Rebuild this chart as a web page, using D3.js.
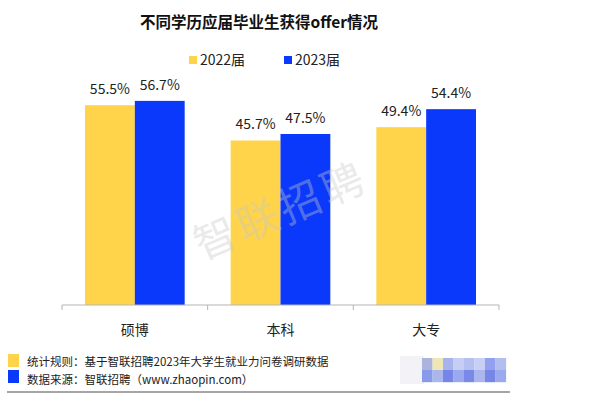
<!DOCTYPE html>
<html>
<head>
<meta charset="utf-8">
<script src="https://cdn.jsdelivr.net/npm/d3@7"></script>
<style>
  html, body { margin: 0; padding: 0; background: #fff; }
  svg { display: block; font-family: "Noto Sans CJK SC", "Noto Sans", sans-serif; }
</style>
</head>
<body>
<div id="chart"></div>
<script>
const categories = ['硕博', '本科', '大专'];
const seriesNames = ['2022届', '2023届'];
const values2022 = [55.5, 45.7, 49.4];
const values2023 = [56.7, 47.5, 54.4];
const notes = ['统计规则：基于智联招聘2023年大学生就业力问卷调研数据', '数据来源：智联招聘（www.zhaopin.com）'];

const colors = ['#ffd44a', '#0a39fb'];
const blurColors = [
  ['#aab4dc', '#efe6b6', '#a6b3ec', '#c6cef3', '#b5c0f0', '#c7cff4', '#92a0ef', '#b2bdf0'],
  ['#8a9aea', '#abb7ec', '#7686e8', '#9aa8ee', '#7889e8', '#abb6ee', '#7687e8', '#9ba9ee']
];

const width = 598, height = 396;
const svg = d3.select('#chart').append('svg')
  .attr('width', width).attr('height', height);

// title
svg.append('text')
  .attr('x', 259).attr('y', 28)
  .attr('text-anchor', 'middle')
  .attr('font-size', 15.5).attr('font-weight', 'bold')
  .attr('fill', '#111')
  .text('不同学历应届毕业生获得offer情况');

// legend
const legendX = [189, 284];
seriesNames.forEach(function(name, i) {
  svg.append('rect')
    .attr('x', legendX[i]).attr('y', 56)
    .attr('width', 8).attr('height', 8)
    .attr('fill', colors[i]);
  svg.append('text')
    .attr('x', legendX[i] + 11).attr('y', 65)
    .attr('font-size', 14).attr('fill', '#222')
    .text(name);
});

const x0 = d3.scaleBand().domain(categories).range([62, 499]).paddingInner(0).paddingOuter(0);
const x1 = d3.scaleBand().domain(seriesNames).range([23, x0.bandwidth() - 23]).padding(0);
const y = d3.scaleLinear().domain([0, 60]).range([305, 89]);

const data = categories.map(function(c, i) {
  return { cat: c, vals: [values2022[i], values2023[i]] };
});

const groups = svg.selectAll('.grp')
  .data(data)
  .enter().append('g')
  .attr('class', 'grp')
  .attr('transform', function(d) { return 'translate(' + x0(d.cat) + ',0)'; });

groups.selectAll('rect')
  .data(function(d) { return d.vals.map(function(v, i) { return { name: seriesNames[i], v: v, i: i }; }); })
  .enter().append('rect')
  .attr('x', function(d) { return x1(d.name); })
  .attr('y', function(d) { return y(d.v); })
  .attr('width', x1.bandwidth())
  .attr('height', function(d) { return y(0) - y(d.v); })
  .attr('fill', function(d) { return colors[d.i]; });

groups.selectAll('.lbl')
  .data(function(d) { return d.vals.map(function(v, i) { return { name: seriesNames[i], v: v }; }); })
  .enter().append('text')
  .attr('class', 'lbl')
  .attr('x', function(d) { return x1(d.name) + x1.bandwidth() / 2; })
  .attr('y', function(d) { return y(d.v) - 11; })
  .attr('text-anchor', 'middle')
  .attr('font-size', 14).attr('fill', '#222')
  .text(function(d) { return d.v.toFixed(1) + '%'; });

// x axis
const xAxis = svg.append('g').attr('transform', 'translate(0,305)');
xAxis.append('line')
  .attr('x1', 62).attr('x2', 499)
  .attr('stroke', '#b5b5b5').attr('stroke-width', 1);
const tickPos = categories.map(function(c) { return x0(c); }).concat([x0.range()[1]]);
xAxis.selectAll('.tk')
  .data(tickPos)
  .enter().append('line')
  .attr('x1', function(d) { return d; }).attr('x2', function(d) { return d; })
  .attr('y1', 0).attr('y2', 5)
  .attr('stroke', '#b5b5b5');
xAxis.selectAll('.cl')
  .data(categories)
  .enter().append('text')
  .attr('x', function(d) { return x0(d) + x0.bandwidth() / 2; })
  .attr('y', 30)
  .attr('text-anchor', 'middle')
  .attr('font-size', 14).attr('fill', '#222')
  .text(function(d) { return d; });

// watermark
svg.append('text')
  .attr('transform', 'translate(282,214) rotate(-23)')
  .attr('text-anchor', 'middle')
  .attr('dominant-baseline', 'middle')
  .attr('font-size', 42)
  .attr('letter-spacing', 4)
  .attr('fill', '#c8c8c8').attr('fill-opacity', 0.4)
  .text('智联招聘');

// footer notes
notes.forEach(function(t, i) {
  svg.append('rect')
    .attr('x', 8).attr('y', 354 + i * 16)
    .attr('width', 11).attr('height', 13)
    .attr('fill', colors[i]);
  svg.append('text')
    .attr('x', 27).attr('y', 366 + i * 18)
    .attr('font-size', 11.5).attr('fill', '#222')
    .text(t);
});

// blurred logo area
svg.append('rect')
  .attr('x', 400).attr('y', 356).attr('width', 24).attr('height', 28)
  .attr('fill', '#f3f3f7');
blurColors.forEach(function(row, r) {
  row.forEach(function(c, k) {
    svg.append('rect')
      .attr('x', 422 + k * 10.5).attr('y', 358 + r * 12)
      .attr('width', 10.6).attr('height', 12.2)
      .attr('fill', c);
  });
});

svg.append('line')
  .attr('x1', 7).attr('x2', 510)
  .attr('y1', 392).attr('y2', 392)
  .attr('stroke', '#888').attr('stroke-width', 1.5);
</script>
</body>
</html>
